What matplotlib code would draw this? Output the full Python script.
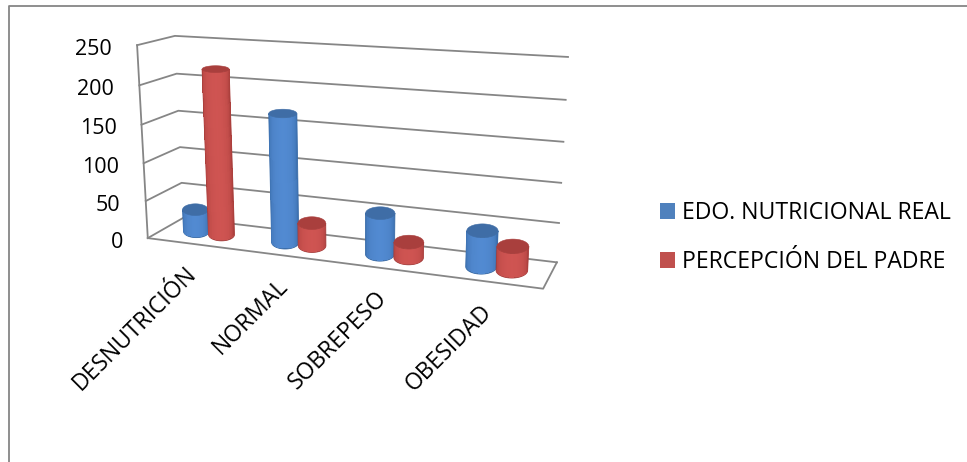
import numpy as np
import matplotlib
matplotlib.use("Agg")
import matplotlib.pyplot as plt
from matplotlib.patches import Patch, Polygon

categories = ["DESNUTRICIÓN", "NORMAL", "SOBREPESO", "OBESIDAD"]
series_names = ["EDO. NUTRICIONAL REAL", "PERCEPCIÓN DEL PADRE"]
real_values = [30, 168, 53, 45]
padre_values = [218, 30, 20, 30]
y_ticks = [0, 50, 100, 150, 200, 250]

W, H = 967, 462
GRID = "#868686"
plt.rcParams["font.family"] = ["Open Sans", "DejaVu Sans"]

# camera calibration: (category axis, depth, value) -> figure pixels
world = np.array([(0, 0, 0), (0, 0, 250), (0, 1, 250), (0, 1, 0),
                  (4, 1, 250), (4, 1, 0), (4, 0, 0)], float)
image = np.array([(148, 238), (137, 45), (175, 36), (183, 218),
                  (568, 57), (557, 262), (543, 289)], float)
rows = []
for (a, b, c), (u, v) in zip(world, image):
    rows.append([a, b, c, 1, 0, 0, 0, 0, -u*a, -u*b, -u*c, -u])
    rows.append([0, 0, 0, 0, a, b, c, 1, -v*a, -v*b, -v*c, -v])
P = np.linalg.svd(np.array(rows))[2][-1].reshape(3, 4)


def project(x, z, y):
    x, z, y = np.broadcast_arrays(np.asarray(x, float), np.asarray(z, float), np.asarray(y, float))
    q = P @ np.stack([x, z, y, np.ones_like(x, dtype=float)])
    return np.stack([q[0]/q[2], q[1]/q[2]], axis=-1)


fig = plt.figure(figsize=(W/100, H/100), dpi=100)
ax = fig.add_axes([0, 0, 1, 1])
ax.set_xlim(0, W)
ax.set_ylim(H, 0)
ax.axis("off")

# outer frame
ax.plot([8.5, 8.5, W], [H, 5.5, 5.5], color=GRID, lw=1.3, solid_capstyle="butt")

# walls and floor
for v in y_ticks:
    pts = project([0, 0, 4], [0, 1, 1], [v, v, v])
    ax.plot(pts[:, 0], pts[:, 1], color=GRID, lw=1.3)
    a = project(0, 0, v)
    ax.annotate(str(v), xy=a, xytext=(-25, -4), textcoords="offset pixels",
                ha="right", va="center", fontsize=15.5, color="black")
pts = project([0, 0], [0, 0], [0, 250])
ax.plot(pts[:, 0], pts[:, 1], color=GRID, lw=1.3)
pts = project([0, 4, 4], [0, 0, 1], [0, 0, 0])
ax.plot(pts[:, 0], pts[:, 1], color=GRID, lw=1.3)


def ring_at(cx, cz, value, r_x, r_z, th):
    """Upright ellipse round the projected centre of a cylinder section."""
    c = project(cx, cz, value)
    a = abs(project(cx + r_x, cz, value)[0] - project(cx - r_x, cz, value)[0]) / 2
    b = abs(project(cx, cz + r_z, value)[1] - project(cx, cz - r_z, value)[1]) / 2
    return np.stack([c[0] + a*np.cos(th), c[1] - b*np.sin(th)], axis=-1)


def cylinder(cx, value, edge, mid, top, r_x=0.148, r_z=0.3, cz=0.5):
    th = np.linspace(np.pi, 2*np.pi, 41)   # front half
    bot = ring_at(cx, cz, 0, r_x, r_z, th)
    up = ring_at(cx, cz, value, r_x, r_z, th)
    side = np.vstack([bot, up[::-1]])
    ax.add_patch(Polygon(side, closed=True, facecolor=tuple(edge), edgecolor=tuple(edge), lw=0.6, zorder=3))
    c0, c1 = project(cx, cz, 0), project(cx, cz, value)
    # shaded strips sit just inside the smooth outline
    X = np.stack([c0[0] + (bot[:, 0]-c0[0])*0.97, c1[0] + (up[:, 0]-c1[0])*0.97])
    Y = np.stack([bot[:, 1] - 0.5, up[:, 1]])
    t = (np.arange(len(th)-1) + 0.5) / (len(th)-1)
    k = np.sin(np.pi*t)**0.7
    rgb = np.outer(1-k, edge) + np.outer(k, mid)
    ax.pcolormesh(X, Y, rgb[np.newaxis, :, :], shading="flat", zorder=3)
    ring = ring_at(cx, cz, value, r_x, r_z, np.linspace(0, 2*np.pi, 60))
    ax.add_patch(Polygon(ring, closed=True, facecolor=top, edgecolor=top, lw=0.4, zorder=3))


blue = ((0.22, 0.42, 0.66), (0.32, 0.54, 0.82), "#3F6DA6")
red = ((0.66, 0.24, 0.23), (0.81, 0.33, 0.32), "#A93F3D")
offsets = (-0.145, 0.145)
for i in range(len(categories)):
    cylinder(i + 0.5 + offsets[0], real_values[i], *blue)
    cylinder(i + 0.5 + offsets[1], padre_values[i], *red)
ax.set_xlim(0, W)
ax.set_ylim(H, 0)

# category labels
for i, c in enumerate(categories):
    a = project(i + 0.5, 0, 0)
    ax.annotate(c, xy=a, xytext=(1, -27), textcoords="offset pixels", annotation_clip=False,
                ha="right", va="center", rotation=45, rotation_mode="anchor",
                fontsize=16.5, color="black")

ax.legend(handles=[Patch(facecolor="#4F81BD", label=series_names[0]),
                   Patch(facecolor="#C0504D", label=series_names[1])],
          loc="center left", bbox_to_anchor=(651/W, 1-237.5/H), frameon=False,
          fontsize=16.55, handlelength=0.65, handleheight=0.65, handletextpad=0.3,
          labelspacing=1.08, borderpad=0, borderaxespad=0.4)

fig.savefig("out.png", dpi=100)
